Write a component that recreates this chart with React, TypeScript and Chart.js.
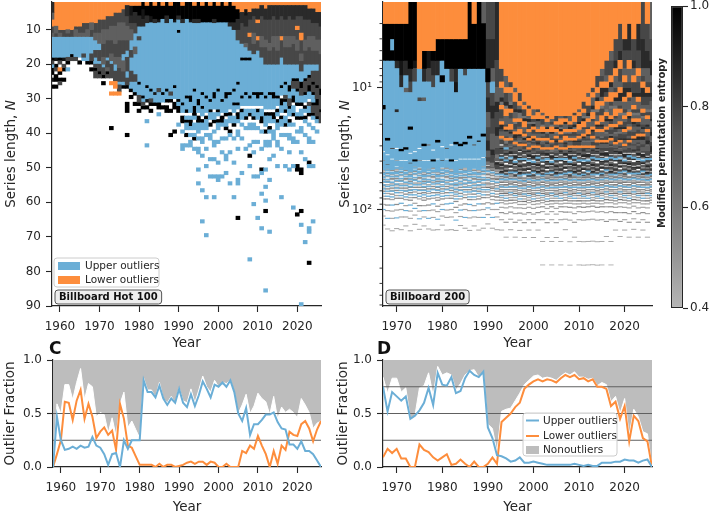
import React, { useEffect, useRef } from "react";
import { Chart, registerables } from "chart.js";
Chart.register(...registerables);

const FONT = "'DejaVu Sans', sans-serif";
const TEXT = "#262626";
const BLUE = "#6baed6";
const ORANGE = "#fd8d3c";
const NONOUT = "#bdbdbd";
const REFLINE = "#606060";

// ---------------- data ----------------
const seriesNames = ["Upper outliers", "Lower outliers", "Nonoutliers"];

const yearsC = [
  1958, 1959, 1960, 1961, 1962, 1963, 1964, 1965, 1966, 1967,
  1968, 1969, 1970, 1971, 1972, 1973, 1974, 1975, 1976, 1977,
  1978, 1979, 1980, 1981, 1982, 1983, 1984, 1985, 1986, 1987,
  1988, 1989, 1990, 1991, 1992, 1993, 1994, 1995, 1996, 1997,
  1998, 1999, 2000, 2001, 2002, 2003, 2004, 2005, 2006, 2007,
  2008, 2009, 2010, 2011, 2012, 2013, 2014, 2015, 2016, 2017,
  2018, 2019, 2020, 2021, 2022, 2023, 2024, 2025, 2026,
];
const upperC = [
  0, 0.47, 0.25, 0.16, 0.17, 0.19, 0.17, 0.2, 0.18, 0.19,
  0.28, 0.2, 0.18, 0.12, 0.02, 0.12, 0.13, 0, 0.25, 0.17,
  0.25, 0.25, 0.25, 0.81, 0.7, 0.7, 0.65, 0.76, 0.64, 0.58,
  0.64, 0.6, 0.73, 0.6, 0.56, 0.68, 0.57, 0.67, 0.8, 0.73,
  0.65, 0.77, 0.75, 0.79, 0.75, 0.81, 0.7, 0.5, 0.43, 0.55,
  0.3, 0.4, 0.4, 0.44, 0.49, 0.49, 0.51, 0.42, 0.36, 0.35,
  0.21, 0.21, 0.17, 0.24, 0.15, 0.15, 0.12, 0.06, 0,
];
const lowerC = [
  0, 0.12, 0.25, 0.61, 0.6, 0.44, 0.62, 0.72, 0.45, 0.59,
  0.47, 0.27, 0.33, 0.37, 0.3, 0.34, 0.16, 0.59, 0.45, 0.2,
  0.18, 0.1, 0.02, 0.02, 0.02, 0.02, 0, 0.03, 0, 0.02,
  0.02, 0, 0.01, 0.02, 0.04, 0.05, 0.03, 0.05, 0.05, 0.02,
  0.05, 0.04, 0, 0, 0.03, 0, 0, 0, 0.15, 0.13,
  0.2, 0.17, 0.29, 0.2, 0.12, 0, 0.15, 0.03, 0.2, 0.16,
  0.33, 0.3, 0.29, 0.4, 0.43, 0.36, 0.24, 0.35, 0.43,
];

const yearsD = [
  1967, 1968, 1969, 1970, 1971, 1972, 1973, 1974, 1975, 1976,
  1977, 1978, 1979, 1980, 1981, 1982, 1983, 1984, 1985, 1986,
  1987, 1988, 1989, 1990, 1991, 1992, 1993, 1994, 1995, 1996,
  1997, 1998, 1999, 2000, 2001, 2002, 2003, 2004, 2005, 2006,
  2007, 2008, 2009, 2010, 2011, 2012, 2013, 2014, 2015, 2016,
  2017, 2018, 2019, 2020, 2021, 2022, 2023, 2024, 2025, 2026,
];
const upperD = [
  0.75, 0.52, 0.7, 0.66, 0.62, 0.66, 0.45, 0.48, 0.53, 0.6,
  0.74, 0.58, 0.88, 0.77, 0.76, 0.84, 0.69, 0.71, 0.83, 0.9,
  0.86, 0.84, 0.89, 0.37, 0.27, 0.11, 0.1, 0.08, 0.05, 0.06,
  0.09, 0.04, 0.04, 0.05, 0.04, 0.03, 0.02, 0.02, 0.02, 0.02,
  0.02, 0.02, 0.03, 0.02, 0.01, 0.02, 0.01, 0.01, 0.04, 0.04,
  0.04, 0.05, 0.05, 0.07, 0.06, 0.06, 0.04, 0.06, 0.07, 0,
];
const lowerD = [
  0.09, 0.17, 0.13, 0.17, 0.08, 0.08, 0, 0, 0.21, 0.16,
  0.14, 0.09, 0.06, 0.09, 0.12, 0.02, 0.03, 0.07, 0.03, 0,
  0.05, 0, 0, 0.03, 0.09, 0.03, 0.42, 0.46, 0.5, 0.56,
  0.6, 0.73, 0.77, 0.8, 0.82, 0.8, 0.82, 0.81, 0.79, 0.83,
  0.86, 0.84, 0.86, 0.82, 0.83, 0.8, 0.82, 0.75, 0.75, 0.73,
  0.57, 0.61, 0.45, 0.57, 0.24, 0.48, 0.43, 0.27, 0.24, 0,
];

// Heatmap columns (one string per year, run-length cells from N = 2 downward).
// o = lower outlier, b = upper outlier, w = empty, others = entropy level codes.
const entropyCodes = ["r", "q", "p", "l", "m", "e", "d", "k"];
const entropyValues = [0.45, 0.53, 0.62, 0.7, 0.78, 0.86, 0.93, 1.0];

const hotCols = [
  "e3l2o2m2l1b6k1m1b1k2w1d1w1k1", "o7l2m1b6d1w1k1m1w1k2w1k1", "o8m1l1b6k1m1w1o1k1w1k1m1",
  "o8m2b6d1w1m1k1w2k1", "o8l1m1b6m1k1w1b1", "o8m2b5k1m1", "o7m1l2b6m1", "o7m2l1b6w1k1",
  "o6m3l1b5m1b1", "o6m2l2b7k1",
  "o6l2m2b5m2k1w1k1", "o6m3l2b3m2b2m1k1m2", "o5m4l3b2m3b1m2k1m1", "o5m3l4m4l2b1m2k1w1k1",
  "o4m4l3m5b1m2l1k1m1", "o4m3l4m4l2b1m4w1o1w2o1w9k1", "o3m4l5m4l2b2m3o2w1o1",
  "o3m3l5m5l3m4b1m2o1", "o2m4l5m4b2l3m3b1k1w1", "o1e3m3l4m3b2m4b2m2k1w4k3w6k1",
  "o1d3e2m2l3b3m2b4m3b2k1w1k1", "o1k2e3m3b4l2b6m2b3k1w2k1", "o1k3e3b3m1b12k1b3m2k1w1k1",
  "k2d3e2b20k1b1m1k1w1", "o1k3e2b18k1b3d1w1k1w3b1w6b1", "k4d2b19k1b2m1k1w1k1",
  "o1k4e1b20d1b2k1w2", "k5d1b19m1b3k2w1b1", "o1k4b21k1b2w1k1", "k4e2b19k1b2k1w1k2",
  "o1k4b21m1b1k1w2k1w6k1", "k5d1b18k1b3w1k2w6k1", "k4e1b3k1b17b2k1b1k2w3b1",
  "o1k4e1b23k1b2w1k2w2b1w3b2", "k5b22k1b3k1w1b1k1b2w1k1w2b1", "k5d1b21k2b3w1b1k2b1w1b1w1b2",
  "o1k4e1b19k1b4k3b1w1b2w1b1k1w2b1", "k5e1b22k2b2w1k2b3w1b1w2b2w4b1w3b1",
  "o1k5b20k1b3k1b2w1k1b2w2b2w3b1w9b1", "k6b21k1b4w1k1b3w1b1w3b1w4b1w8b1",
  "o1k5b22k1b2k1b2w1k1w2b2w5b1w4b1", "k5e1b20k2b3w1b2k1w2b1w2b2w3b1w4b1",
  "o1k5b19k1b5k1b1w1k1b2w3b1w5b1w3b2", "k6b22k1b3w1k2b1w3b1w3b1w6b1",
  "o1k5b20k2b4k1w1b2k1w2b1w4b2w3b1", "k6e1b19k1b4w1k1b2w2k1b1w4b1w8b1",
  "o1k5e2b17k1b3k1b2w1b2k1w3b1w6b1", "o2k3e3m3b12k1b5k1b1w1k2b1w2b2w3b1w8b2",
  "o3e3m6b4k1b10k1b2w1k1b2w1b1w3b1w9b1", "o2d2e3m5l1b3k1b9k1b3w1b2k1w2b1w5b1",
  "o3e2m4o1m4b2k1b10k1b2w1b1k1w2b2w4b1w2k1w2b1", "o2e2m5l3m3b11k1b3w1b2k1w1b2w3b1w2b1w6b1",
  "o2e3o1m4o1m3b12k2b2w1k1b2w2b1w3b1w9b1", "o1e3m6l3m3b10k1b3w1b2k2w2b1w4b1w5k1b1",
  "o2e3m6l2m5b9k1b3w1k1b3w1k1w2b2w6b1w4b1", "o1e4m7l2m4b8k1b4w1k1b2w1k1b1w2b2w3b1w5b1",
  "o1e3m6l3m5b8k2b3w1k2b1w2b3w4b1", "o1e4m5l4m4b9k1b2w1k1b1w1k1b2w3b2w5b1",
  "o1e3m6o1m5b8k1b2w1k2b2w1k1b2w2b1w3b1", "o1e4m5l3m5b5k1b3m1k1b2k1w1b2k1w2b1w8b1",
  "o1e3m6l3m5b6k2b2m2k1b2w1k1b1w2b2w3b1w4b1", "o1e4m5l2m6b4k1m2b2k2w1b2k1w2b1w3b2w6b1",
  "o1e3m3o1m3l3m4b4k1m2k1b3k1w2b1k1w3b1w2b1w6k2", "o1e3m5o2m4l2m3b3k2m2b2k1w1b2k1w2b2w5b1w4k2",
  "o1e4m6l3m4b4k1m3k1b2w1k1b1w1k1b1w3b1w6b1", "o2e3m5l3m5b3k1m2k2b2w1m1b2k1w2b1w3b2w5k1b1",
  "o2e4m4l4m4b2m3k1m2k1b2k1m2k1b1w2b1w3b1w6b1", "o3e3m5l3m4b2m4k1m3k2m3k1b1w2b1",
  "o3e4m4l4m5m5k2m4k1m3",
];
const hotExtra: [number, number, string][] = [
  [1996, 65, "b"], [1997, 69, "b"], [1999, 58, "b"], [2004, 58, "b"], [2005, 64, "k"],
  [2008, 76, "b"], [2009, 60, "b"], [2010, 64, "b"], [2011, 67, "b"], [2012, 62, "k"],
  [2012, 85, "b"], [2013, 68, "b"], [2016, 58, "b"], [2019, 61, "b"], [2020, 63, "k"],
  [2021, 62, "k"], [2021, 66, "b"], [2022, 71, "b"], [2023, 67, "b"], [2023, 68, "b"],
  [2023, 77, "k"], [2021, 89, "b"], [2012, 59, "b"], [2011, 57, "b"], [2024, 65, "b"],
];

// Billboard 200 column pieces
const mixA = "m2w1e1b1m2w1l1e2w1m1p1w1e2l1b1";
const mixB = "e1m1w1l2b1e1w2m2p1w1e1m1w1l1e1b1";
const mixC = "l1e2w1m1b1w1e1m2w1p1e1w2m1l1b1e1";
const mixD = "m1w1e2p1w1b1m1e1w1l2w1m1e1b1w1p1m1";
const lightG1 = "p1w1q1b1w1r1p1w2q1w1b1r1w2q1w1r1w2p1w2b1w2r1w3q1w3r1w2";
const lightG2 = "q1p1w1b1r1w1q1w2p1r1w1b1w2q1w2r1w1p1w2r1w3b1w3q1w4r1";
const lightG3 = "r1q1w1p1b1w1r1w1q1p1w2b1r1w2q1w2r1b1w2q1w3r1w3p1w4r1";
const lightL1 = "b1r1w1q1b2w1r1b1w1q1w1b1r1w2b1q1w2r1b1w2q1w2b1w3r1w3q1w3";
const lightL2 = "r1b1w1b1q1w1b1r1w2b1w1q1b1w2r1w1b1w2q1w2b1w2r1w3b1w3q1w3";
const lightL3 = "q1w1b2r1w1b1w1q1r1w2b1w1r1w1b1w2q1w2r1b1w3q1w3b1w3r1w4";
const tailS1 = "w5r1w8b1w12r1w20r1";
const tailS2 = "w6q1w9r1w15b1w25r1";
const tailS3 = "w4b1w10r1w14r1w30r1";
const tailT1 = "w5r1w9q1w14r1w25r1";
const tailT2 = "w6r1w10r1w18q1w40r1";
const tailT3 = "w4q1w8r1w16r1w60r1w100r1";

const b200Cols = [
  "o1k3b8k1b18w1b5q1b5b1" + lightL1 + tailS1,
  "o1k3b20k1b8w1b6l1b3" + lightL2 + tailS2,
  "o1k1b1k1b25m1b6w1b6b2" + lightL3 + tailS3,
  "o1k3e1b8e1b15w1b7r1b4w1" + lightL1 + tailS2,
  "o1k3d2e2b22k1b6w1b5" + lightL2 + tailS3,
  "o1k3e2b2l1b20k1b7w1b6b1" + lightL3 + tailS1,
  "k5e2m2b10k1b12w1b6m1b3b3" + lightL1 + tailS3,
  "k4d1m2b24w1b5k1b4" + lightL2 + tailS1,
  "o5b5m1b18w1b7q1b5w1" + lightL3 + tailS2,
  "o3k2e2b3l1b16k1b9w1b6b2" + lightL1 + tailS1,
  "o3d2m2b20p1b9w1b5b1" + lightL2 + tailS2,
  "o3k1e2m2b22w1b6k1b5" + lightL3 + tailS3,
  "o2k2e2b19k1b10w1b7b2" + lightL1 + tailS2,
  "o2k2b2k1b21w1b8m1b5w1" + lightL2 + tailS1,
  "o2k3b24l1b6w1b5b1" + lightL3 + tailS3,
  "o2k3m2b20w1b9k1b5" + lightL1 + tailS3,
  "o2k3e2d2b17k1b10w1b7b3" + lightL2 + tailS2,
  "o2k3b22k1b8w1b6b1" + lightL3 + tailS1,
  "o2k3m1b20k1b9w1b5" + lightL1 + tailS2,
  "k5b18k1b12w1b6b2" + lightL2 + tailS3,
  "o1k4b22l1b8w1b7w1" + lightL3 + tailS1,
  "k5b20d1b10w1b6b1" + lightL1 + tailS3,
  "l1k4b17k1b12w1b6" + lightL2 + tailS2,
  "m2e3k2m3e4l5m6e6l4m3p3w1l1" + lightG1 + tailS1,
  "m2e3l2b2m3e4m6l8e4m5p4l1" + lightG2 + tailS2,
  "e4m4l3e3m5e4l6m4p3l2w1e2m2m2" + lightG3 + tailS3,
  "o5m2o1l2e1p1o1m3l1o1e2m1l2o1p1m2w1l1e1m1" + mixA + "w1" + lightG1 + tailT1,
  "o6l2o1m2e1p1o2l3m1o1e1l2m1o1p2m1l1b1m1l1" + mixB + lightG2 + tailT2,
  "o7m1o1l2p1e1o1m2l2o2m1e1l1p1o1m2l1p1m1" + mixC + "q1" + lightG3 + tailT1,
  "o8l1o2m2e1l2o1p1m2l1o1e2m1p1o1l1m1l2m1" + mixD + lightG1 + tailT2,
  "o9m2o1l1e1p2o1m2l1o2e1m1l1p1m1o1l2e1w1" + mixA + "r1" + lightG2 + tailT1,
  "o11l1o1m2p1e1o2l2m1o1p1e1l1m1o1m2l1" + mixB + "w2" + lightG3 + tailT2,
  "o12m1o2l1e1p1m2o1l2e1o1m1p1l2o1m1e1" + mixC + lightG1 + tailT1,
  "o13l2o1m1p1e1o1m2l1o1e1p1m1l1o1m2l1" + mixD + "p1" + lightG2 + tailT2,
  "o13m1o2e1l2p1o1m1l2o1m1e1m1o1l2" + mixA + "w1" + lightG3 + tailT1,
  "o14l1o1m2p1o2e1l1m1o1p1l1m2o1l1m1" + mixB + lightG1 + tailT3,
  "o15m1o1l2e1o1p1m2o1l1e1l2o1m1" + mixC + "r2" + lightG2 + tailT2,
  "o16l1m1p1o2e1l2m1o1l1m2o1p1p1" + mixD + lightG3 + tailT3,
  "o15m2o1l1e1o1p1l1o1m1e1m2o1l1p1l1" + mixA + "q1" + lightG1 + tailT2,
  "o15l1o2m1p1e1o1m2l1o1m1l2o1m1" + mixB + "w1" + lightG2 + tailT3,
  "o15m1o1e1l2o1p1m1o2l1e1m2o1l1" + mixC + lightG3 + tailT1,
  "o15l2o1m1e1o1p1m1l1o1m1l2o1m1p1e1" + mixD + "p1" + lightG1 + tailT3,
  "o14m1o2l1e1p1o1m2l1o1e1m2o1l1p1" + mixA + "r1" + lightG2 + tailT2,
  "o13l1o1m2e1o2p1l1m1o1l1e1m2o1l1m1l1" + mixB + lightG3 + tailT3,
  "o11m2o1l1p1e1o2m1l2o1e1m1p1l2o1m1e1m1" + mixC + "w1" + lightG1 + tailT3,
  "o9l1o2m2e1p1o1l2m1o2e1l1m1p1l2o1m1l1" + mixD + "q1" + lightG2 + tailT3,
  "o8m1o1l2e1p1o2m1l2o1e1m2o1l1p1m2o1l1e1" + mixA + lightG3 + tailT3,
  "o6m2o1l1e1o2p1m1l2o1e1m1o1l2m1p1o1m2l1e1l1" + mixB + "w2" + lightG1 + tailT3,
  "o5l1m1o1e2l1o1p1m2o2l1e1m1o1l2p1m1o1e1l2m1m1" + mixC + "p1" + lightG2 + tailT3,
  "o4m2l1o1e1m1o1l2p1o1m1e1l2o1m1p1l1m2o1e1l2m1" + mixD + lightG3 + tailT2,
  "o3l1m2o1e1l1o2m1p1l2o1e1m1o1l1m2p1e1o1l2m1p1m2" + mixA + "r1" + lightG1 + tailT3,
  "o2m2e1o1l2m1o1e1l1p1o2m1l2o1e1m1p1l1m2e1o1l2m1p1" + mixB + "w1" + lightG2 + tailT1,
  "o1m2e1o1m2l1o1e2l1m1o1p1l2o1m1e1l1p1m2e1o1l2m1p1" + mixC + lightG3 + tailT2,
  "o2e1m2l1o1m1e2o1l2m1p1o1l1m2e1o1l1m2e1l2o1m1l1m1" + mixD + "q1" + lightG1 + tailT1,
  "o1e2m1o1l2m1e1o1m1l2p1o1e1m2l1o1p1m2l1e1o1m2l1m1" + mixA + "w2" + lightG2 + tailT2,
  "o2m2e1l1o1m2e1l2o1m1p1l1o1e1m1l2m2o1e1l2m1l2" + mixB + lightG3 + tailT1,
  "o1e2m2o1l1m2e1o1l2m1p1l1o1m1e1l1m2o1e2l1m1p1m2e1" + mixC + "r1" + lightG1 + tailT2,
  "m2e3l1m1o1e2m2l1o1m1p1l2m1e1l1m1o1e2l2m2l2" + mixD + "w1" + lightG2 + tailT1,
  "o1m2e2l2m1o1e1m2l1p1m1o1l2e1m1o1l2m2e2p1l3m1" + mixA + lightG3 + tailT2,
  "l2m2e2l1m2e1m1l2p1m2e1l2m2e2l2p1m2e3" + mixB + "p1" + lightG1,
];

const hotTicksX = [1960, 1970, 1980, 1990, 2000, 2010, 2020];
const hotTicksY = [10, 20, 30, 40, 50, 60, 70, 80, 90];
const b200TicksX = [1970, 1980, 1990, 2000, 2010, 2020];
const b200TicksY = [10, 100];
const b200MinorY = [3, 4, 5, 6, 7, 8, 9, 20, 30, 40, 50, 60, 70, 80, 90, 200, 300, 400, 500, 600];
const cbRange: [number, number] = [0.4, 1.0];
const cbTicks = [0.4, 0.6, 0.8, 1.0];
const fracTicks = [0, 0.5, 1];
const refLinesC = [0.25, 0.5];
const refLinesD = [0.25, 0.5, 0.75];

// ---------------- helpers ----------------
const GREYS = [255, 240, 217, 189, 150, 115, 82, 37, 0];
function grey(v: number) {
  const t = Math.max(0, Math.min(1, v)) * 8;
  const i = Math.min(7, Math.floor(t));
  const f = t - i;
  const g = Math.round(GREYS[i] + (GREYS[i + 1] - GREYS[i]) * f);
  return `rgb(${g},${g},${g})`;
}
function codeColor(code: string) {
  if (code === "o") return ORANGE;
  if (code === "b") return BLUE;
  return grey(entropyValues[entropyCodes.indexOf(code)]);
}
function buildCells(cols: string[], years: number[], startN: number, extra: [number, number, string][]) {
  const groups: Record<string, { x: number; y: [number, number] }[]> = {};
  cols.forEach((s, i) => {
    let n = startN;
    const re = /([a-z])(\d+)/g;
    let m: RegExpExecArray | null;
    while ((m = re.exec(s))) {
      const code = m[1];
      const c = Number(m[2]);
      if (code !== "w" && c > 0) (groups[code] ||= []).push({ x: years[i], y: [n, n + c] });
      n += c;
    }
  });
  for (const [x, n, code] of extra) (groups[code] ||= []).push({ x, y: [n, n + 1] });
  return Object.keys(groups).map((code) => ({
    data: groups[code],
    backgroundColor: codeColor(code),
    borderWidth: 0,
    grouped: false,
    barPercentage: 1,
    categoryPercentage: 1,
  }));
}

const tickFont = { family: FONT, size: 12 };
const fixedTicks = (values: number[]) => (scale: any) => {
  scale.ticks = values.map((v) => ({ value: v }));
};
const gridOpts = { display: true, drawOnChartArea: false, drawTicks: true, tickLength: 6, tickColor: TEXT, tickWidth: 1.1, offset: false };
const borderOpts = { display: true, color: TEXT, width: 1.2 };

function xAxis(min: number, max: number, ticks: number[], height: number) {
  return {
    type: "linear",
    min,
    max,
    offset: false,
    afterBuildTicks: fixedTicks(ticks),
    afterFit: (s: any) => {
      s.height = height;
    },
    grid: gridOpts,
    border: borderOpts,
    ticks: { font: tickFont, color: TEXT, padding: 8, maxRotation: 0, autoSkip: false, callback: (v: any) => String(v) },
    title: { display: true, text: "Year", font: { family: FONT, size: 13.5 }, color: TEXT, padding: { top: 0, bottom: 2 } },
  };
}

function rrect(c: CanvasRenderingContext2D, x: number, y: number, w: number, h: number, r: number) {
  c.beginPath();
  c.moveTo(x + r, y);
  c.arcTo(x + w, y, x + w, y + h, r);
  c.arcTo(x + w, y + h, x, y + h, r);
  c.arcTo(x, y + h, x, y, r);
  c.arcTo(x, y, x + w, y, r);
  c.closePath();
}

function yTitle(x: number, parts: [string, string][], yAbs?: number) {
  return {
    id: "ytitle",
    afterDraw(chart: any) {
      const c = chart.ctx as CanvasRenderingContext2D;
      const ca = chart.chartArea;
      const yc = yAbs !== undefined ? yAbs : (ca.top + ca.bottom) / 2;
      c.save();
      c.translate(x, yc);
      c.rotate(-Math.PI / 2);
      c.fillStyle = TEXT;
      c.textBaseline = "middle";
      c.textAlign = "left";
      let total = 0;
      for (const [t, f] of parts) {
        c.font = f;
        total += c.measureText(t).width;
      }
      let cx = -total / 2;
      for (const [t, f] of parts) {
        c.font = f;
        c.fillText(t, cx, 0);
        cx += c.measureText(t).width;
      }
      c.restore();
    },
  };
}

function nameBox(text: string) {
  return {
    id: "namebox",
    afterDraw(chart: any) {
      const c = chart.ctx as CanvasRenderingContext2D;
      const ca = chart.chartArea;
      c.save();
      c.font = `bold 10px ${FONT}`;
      const w = c.measureText(text).width + 8;
      const x = ca.left + 3;
      const y = ca.bottom - 16;
      rrect(c, x, y, w, 14, 3);
      c.fillStyle = "#eeeeee";
      c.fill();
      c.strokeStyle = "#555555";
      c.lineWidth = 1;
      c.stroke();
      c.fillStyle = "#111111";
      c.textBaseline = "middle";
      c.textAlign = "center";
      c.fillText(text, x + w / 2, y + 7.5);
      c.restore();
    },
  };
}

const hotLegend = {
  id: "hotlegend",
  afterDraw(chart: any) {
    const c = chart.ctx as CanvasRenderingContext2D;
    const ca = chart.chartArea;
    const L = ca.left;
    const B = ca.bottom;
    c.save();
    rrect(c, L + 2, B - 48, 105, 29, 3);
    c.fillStyle = "rgba(255,255,255,0.85)";
    c.fill();
    c.strokeStyle = "#cccccc";
    c.lineWidth = 1;
    c.stroke();
    c.font = `10.5px ${FONT}`;
    c.textBaseline = "middle";
    c.textAlign = "left";
    const rows: [string, string, number][] = [
      [seriesNames[0], BLUE, B - 40],
      [seriesNames[1], ORANGE, B - 26],
    ];
    for (const [t, col, y] of rows) {
      c.fillStyle = col;
      c.fillRect(L + 6, y - 4, 22, 8);
      c.fillStyle = TEXT;
      c.fillText(t, L + 33, y + 0.5);
    }
    c.restore();
  },
};

const minorTicksB = {
  id: "minorticks",
  afterDraw(chart: any) {
    const c = chart.ctx as CanvasRenderingContext2D;
    const ca = chart.chartArea;
    const ys = chart.scales.y;
    c.save();
    c.strokeStyle = TEXT;
    c.lineWidth = 0.9;
    for (const v of b200MinorY) {
      const y = ys.getPixelForValue(v);
      if (y < ca.top - 0.5 || y > ca.bottom + 0.5) continue;
      c.beginPath();
      c.moveTo(ca.left - 3.5, y);
      c.lineTo(ca.left, y);
      c.stroke();
    }
    c.restore();
  },
};

function letter(text: string, x: number, y: number) {
  return {
    id: "letter",
    afterDraw(chart: any) {
      const c = chart.ctx as CanvasRenderingContext2D;
      c.save();
      c.font = `bold 17px ${FONT}`;
      c.fillStyle = "#111111";
      c.textBaseline = "middle";
      c.textAlign = "left";
      c.fillText(text, x, y);
      c.restore();
    },
  };
}

const dLegend = {
  id: "dlegend",
  afterDraw(chart: any) {
    const c = chart.ctx as CanvasRenderingContext2D;
    const ca = chart.chartArea;
    const L = ca.left + 140;
    const T = ca.top + 53;
    c.save();
    rrect(c, L, T, 94, 43, 3);
    c.fillStyle = "rgba(255,255,255,0.85)";
    c.fill();
    c.strokeStyle = "#cccccc";
    c.lineWidth = 1;
    c.stroke();
    c.font = `10.5px ${FONT}`;
    c.textBaseline = "middle";
    c.textAlign = "left";
    const items: [string, string, number, boolean][] = [
      [seriesNames[0], BLUE, T + 7.5, true],
      [seriesNames[1], ORANGE, T + 23, true],
      [seriesNames[2], NONOUT, T + 37, false],
    ];
    for (const [t, col, y, isLine] of items) {
      if (isLine) {
        c.strokeStyle = col;
        c.lineWidth = 2;
        c.beginPath();
        c.moveTo(L + 3, y);
        c.lineTo(L + 16, y);
        c.stroke();
      } else {
        c.fillStyle = col;
        c.fillRect(L + 3, y - 4, 13, 8);
      }
      c.fillStyle = TEXT;
      c.fillText(t, L + 20, y + 0.5);
    }
    c.restore();
  },
};

// ---------------- configs ----------------
function makeHot(): any {
  return {
    type: "bar",
    data: { datasets: buildCells(hotCols, yearsC, 2, hotExtra) },
    options: {
      animation: false,
      responsive: false,
      events: [],
      layout: { padding: { top: 14, left: 0, right: 14, bottom: 0 } },
      plugins: { legend: { display: false }, tooltip: { enabled: false } },
      scales: {
        x: xAxis(1958, 2026, hotTicksX, 48),
        y: {
          type: "linear",
          min: 2,
          max: 90,
          reverse: true,
          afterBuildTicks: fixedTicks(hotTicksY),
          afterFit: (s: any) => {
            s.width = 52;
          },
          grid: gridOpts,
          border: borderOpts,
          ticks: { font: tickFont, color: TEXT, padding: 5, callback: (v: any) => String(v) },
        },
      },
    },
    plugins: [
      yTitle(11, [["Series length, ", `13.5px ${FONT}`], ["N", `italic 13.5px ${FONT}`]]),
      hotLegend,
      nameBox("Billboard Hot 100"),
    ],
  };
}

function makeB200(): any {
  return {
    type: "bar",
    data: { datasets: buildCells(b200Cols, yearsD, 2, []) },
    options: {
      animation: false,
      responsive: false,
      events: [],
      layout: { padding: { top: 14, left: 0, right: 13, bottom: 0 } },
      plugins: { legend: { display: false }, tooltip: { enabled: false } },
      scales: {
        x: xAxis(1967, 2026, b200TicksX, 48),
        y: {
          type: "logarithmic",
          min: 2,
          max: 612,
          reverse: true,
          afterBuildTicks: fixedTicks(b200TicksY),
          afterFit: (s: any) => {
            s.width = 52;
          },
          grid: gridOpts,
          border: borderOpts,
          ticks: {
            font: tickFont,
            color: TEXT,
            padding: 5,
            callback: (v: any) => (v === 10 ? "10\u00b9" : v === 100 ? "10\u00b2" : ""),
          },
        },
      },
    },
    plugins: [
      yTitle(14, [["Series length, ", `13.5px ${FONT}`], ["N", `italic 13.5px ${FONT}`]]),
      minorTicksB,
      nameBox("Billboard 200"),
    ],
  };
}

function makeColorbar(): any {
  return {
    type: "bar",
    data: {
      labels: [""],
      datasets: [
        {
          data: [cbRange],
          backgroundColor: (ctx: any) => {
            const ch = ctx.chart;
            if (!ch.chartArea) return grey(0.7);
            const ys = ch.scales.y;
            const g = ch.ctx.createLinearGradient(0, ys.getPixelForValue(cbRange[0]), 0, ys.getPixelForValue(cbRange[1]));
            for (let i = 0; i <= 12; i++) {
              const v = cbRange[0] + ((cbRange[1] - cbRange[0]) * i) / 12;
              g.addColorStop(i / 12, grey(v));
            }
            return g;
          },
          borderColor: TEXT,
          borderWidth: 1.2,
          borderSkipped: false,
          barPercentage: 1,
          categoryPercentage: 1,
          inflateAmount: 0,
        },
      ],
    },
    options: {
      animation: false,
      responsive: false,
      events: [],
      layout: { padding: { top: 26, left: 10, right: 0, bottom: 22 } },
      plugins: { legend: { display: false }, tooltip: { enabled: false } },
      scales: {
        x: { display: false },
        y: {
          position: "right",
          min: cbRange[0],
          max: cbRange[1],
          afterBuildTicks: fixedTicks(cbTicks),
          afterFit: (s: any) => {
            s.width = 37;
          },
          grid: { ...gridOpts, tickLength: 5 },
          border: { display: false },
          ticks: { font: tickFont, color: TEXT, padding: 2, callback: (v: any) => Number(v).toFixed(1) },
        },
        yl: {
          type: "linear",
          position: "left",
          display: true,
          afterFit: (s: any) => {
            s.width = 21;
          },
          grid: { display: false },
          border: { display: false },
          ticks: { display: false },
        },
      },
    },
    plugins: [yTitle(22, [["Modified permutation entropy", `bold 10px ${FONT}`]], 163)],
  };
}

function makeFrac(years: number[], upper: number[], lower: number[], refs: number[], xMin: number, xMax: number, xTicks: number[], yWidth: number, padRight: number, extraPlugins: any[]): any {
  const pts = (arr: number[]) => years.map((x, i) => ({ x, y: arr[i] }));
  const nonTop = years.map((x, i) => ({ x, y: upper[i] + lower[i] }));
  const datasets: any[] = [
    { label: seriesNames[0], data: pts(upper), borderColor: BLUE, borderWidth: 2, pointRadius: 0, fill: false, order: 0 },
    { label: seriesNames[1], data: pts(lower), borderColor: ORANGE, borderWidth: 2, pointRadius: 0, fill: false, order: 1 },
    ...refs.map((v) => ({
      data: [
        { x: xMin, y: v },
        { x: xMax, y: v },
      ],
      borderColor: REFLINE,
      borderWidth: 1,
      pointRadius: 0,
      fill: false,
      order: 2,
    })),
    { label: seriesNames[2], data: nonTop, borderColor: "#ffffff", borderWidth: 1, pointRadius: 0, fill: { value: 1 }, backgroundColor: NONOUT, order: 3 },
  ];
  return {
    type: "line",
    data: { datasets },
    options: {
      animation: false,
      responsive: false,
      events: [],
      layout: { padding: { top: 24, left: 0, right: padRight, bottom: 0 } },
      plugins: { legend: { display: false }, tooltip: { enabled: false } },
      scales: {
        x: xAxis(xMin, xMax, xTicks, 51),
        y: {
          type: "linear",
          min: 0,
          max: 1,
          afterBuildTicks: fixedTicks(fracTicks),
          afterFit: (s: any) => {
            s.width = yWidth;
          },
          grid: gridOpts,
          border: borderOpts,
          ticks: { font: tickFont, color: TEXT, padding: 5, callback: (v: any) => Number(v).toFixed(1) },
        },
      },
    },
    plugins: extraPlugins,
  };
}

const makeC = () =>
  makeFrac(yearsC, upperC, lowerC, refLinesC, 1958, 2026, hotTicksX, 53, 14, [
    yTitle(10, [["Outlier Fraction", `13.5px ${FONT}`]]),
    letter("C", 49, 14),
  ]);
const makeD = () =>
  makeFrac(yearsD, upperD, lowerD, refLinesD, 1967, 2026, b200TicksX, 52, 13, [
    yTitle(12, [["Outlier Fraction", `13.5px ${FONT}`]]),
    letter("D", 46, 14),
    dLegend,
  ]);

// ---------------- components ----------------
function ChartPanel({ left, top, width, height, make }: { left: number; top: number; width: number; height: number; make: () => any }) {
  const ref = useRef<HTMLCanvasElement | null>(null);
  useEffect(() => {
    if (!ref.current) return;
    const chart = new Chart(ref.current, make());
    return () => chart.destroy();
  }, []);
  return <canvas ref={ref} width={width} height={height} style={{ position: "absolute", left, top, width, height }} />;
}

export default function App() {
  return (
    <div style={{ position: "absolute", left: 0, top: 0, width: 720, height: 518, background: "#ffffff", overflow: "hidden", fontFamily: FONT }}>
      <ChartPanel left={0} top={-12} width={335} height={366} make={makeHot} />
      <ChartPanel left={331} top={-12} width={334} height={366} make={makeB200} />
      <ChartPanel left={640} top={-20} width={80} height={350} make={makeColorbar} />
      <ChartPanel left={0} top={336} width={335} height={182} make={makeC} />
      <ChartPanel left={331} top={336} width={334} height={182} make={makeD} />
    </div>
  );
}
